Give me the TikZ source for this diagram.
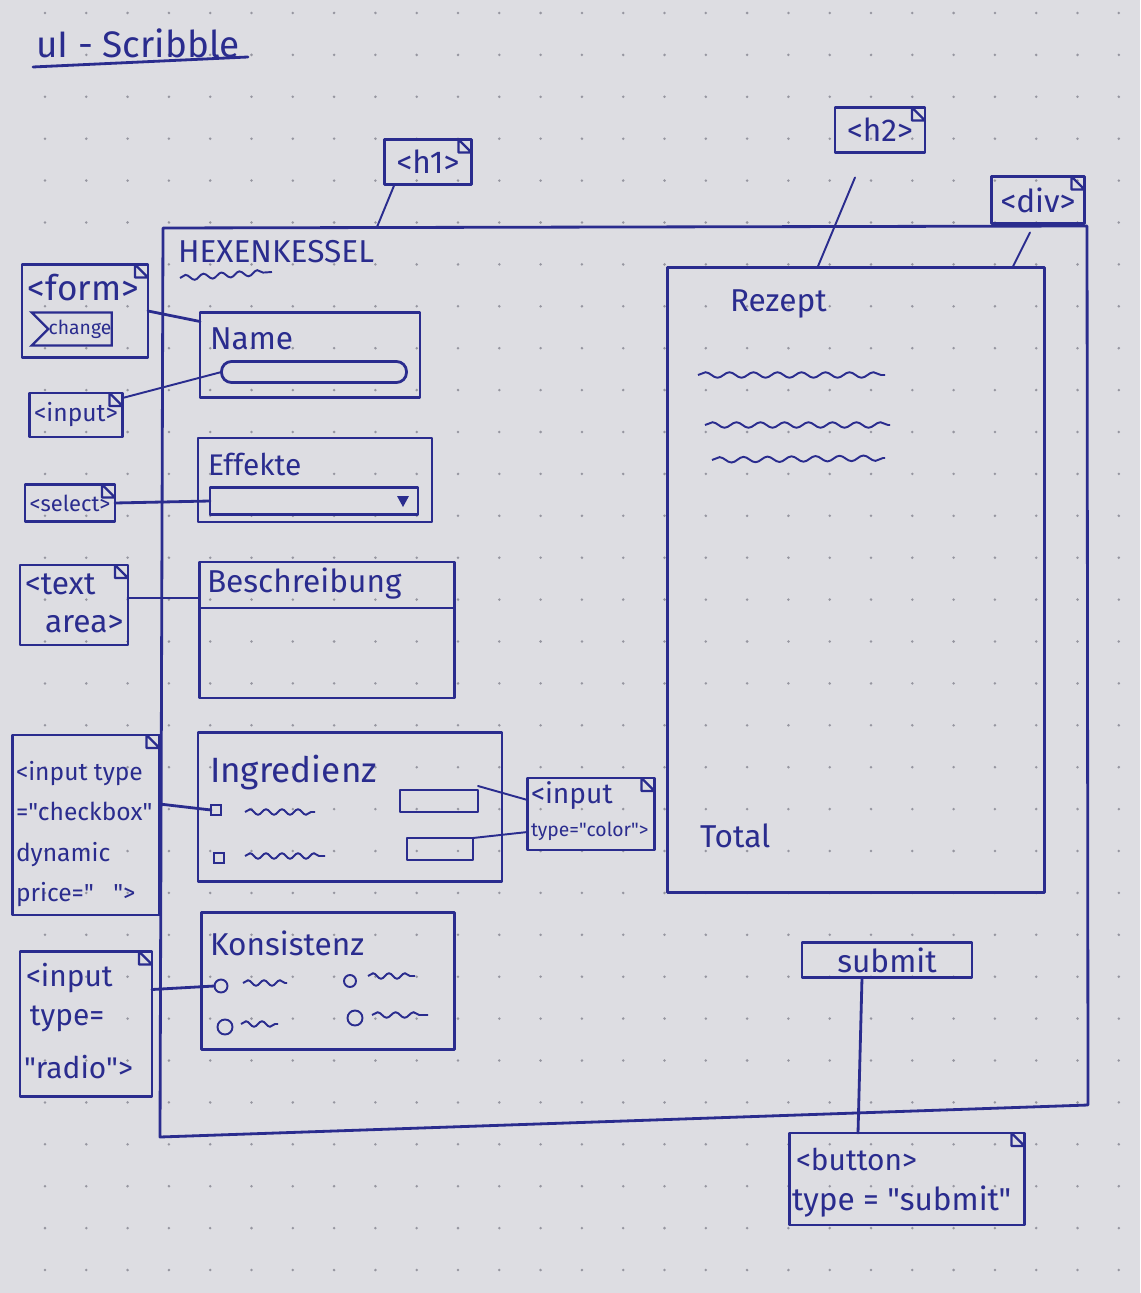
\documentclass[tikz,border=0pt]{standalone}
\usepackage{fontspec}
\setmainfont{Fira Sans}[Ligatures=TeXOff]
\usetikzlibrary{calc,decorations.pathmorphing,shapes.symbols}
\definecolor{paper}{RGB}{221,221,226}
\definecolor{ink}{RGB}{42,44,142}
\definecolor{dotc}{RGB}{150,150,160}
\newcommand\fsz[1]{\fontsize{#1}{#1}\selectfont}

\begin{document}
\begin{tikzpicture}[x=0.02cm,y=-0.02cm,
  every node/.style={text=ink, inner sep=0pt, outer sep=0pt},
  pen/.style={draw=ink, line width=1.6pt, line join=round, line cap=round},
  thin pen/.style={draw=ink, line width=1.1pt, line cap=round},
  field/.style 2 args={pen, minimum width=#1*0.02cm, minimum height=#2*0.02cm},
  tag/.style 2 args={field={#1}{#2},
    path picture={\draw[ink,line width=1.3pt,line join=round]
      ([xshift=-0.26cm]path picture bounding box.north east) -- ++(0,13) -- ++(13,0) -- cycle;}},
  lbl/.style={anchor=base west},
  wave/.style={draw=ink, line width=1.1pt, decorate,
    decoration={snake, amplitude=0.055cm, segment length=#1*0.02cm}},
  wave/.default=18,
  radio/.style={draw=ink, line width=1.1pt, circle, minimum size=#1*0.02cm},
  check/.style={draw=ink, line width=1.1pt, minimum size=10*0.02cm}
]
% paper and dotted grid
\fill[paper] (0,0) rectangle (1140,1293);
\useasboundingbox (0,0) rectangle (1140,1293);
\foreach \i in {0,...,26}{
  \foreach \j in {0,...,30}{
    \fill[dotc] (45+41.3*\i, 13+41.9*\j) circle[radius=0.028cm];
  }
}

% title
\node[lbl, font=\fsz{21}] (title) at (36,58) {uI - Scribble};
\draw[pen] (33,67) -- (248,57);

% page frame
\coordinate (fNW) at (163,228);
\coordinate (fNE) at (1087,226);
\coordinate (fSE) at (1088,1105);
\coordinate (fSW) at (160,1137);
\draw[pen] (fNW) -- (fNE) -- (fSE) -- (fSW) -- cycle;

% heading
\node[tag={87}{45}, font=\fsz{18}] (h1) at (428,162) {<h1>};
\node[lbl, font=\fsz{18}] (hexe) at (178,263) {HEXENKESSEL};
\draw[wave=18] (180,278) -- (272,272);
\coordinate (h1foot) at (377,227);
\draw[thin pen] ($(h1.south west)+(10,0)$) -- (h1foot);

% form tag with change event
\node[tag={126}{93}] (form) at (85,311) {};
\node[lbl, font=\fsz{20}] (formtxt) at (28,301) {<form>};
\node[signal, signal to=nowhere, signal from=west, draw=ink, line width=1.3pt,
  minimum width=80*0.02cm, minimum height=33*0.02cm, font=\fsz{11}] (change) at (80,329) {change};

% Name
\node[field={220}{85}] (name) at (310,355) {};
\node[lbl, font=\fsz{18}] (nametxt) at (210,350) {Name};
\node[field={185}{21}, rounded corners=0.2cm] (nameinput) at (314,372) {};
\draw[pen] (form.east) -- ($(name.north west)+(0,9)$);
\node[tag={93}{44}, font=\fsz{14}] (inputtag) at (76,415) {<input>};
\draw[thin pen] ($(inputtag.north east)+(0,5)$) -- (nameinput.west);

% Effekte
\node[field={234}{84}] (effekte) at (315,480) {};
\node[lbl, font=\fsz{17}] (effektetxt) at (208,476) {Effekte};
\node[field={208}{27}] (selfield) at (314,501) {};
\fill[ink] (397,496) -- (409,496) -- (403,507) -- cycle;
\node[tag={90}{37}, font=\fsz{12.5}] (selecttag) at (70,503) {<select>};
\draw[pen] (selecttag.east) -- (selfield.west);

% Beschreibung
\node[field={255}{136}] (besch) at (327,630) {};
\node[lbl, font=\fsz{18}] (beschtxt) at (207,592) {Beschreibung};
\draw[pen] ($(besch.north west)+(0,46)$) -- ($(besch.north east)+(0,46)$);
\node[tag={108}{80}] (areatag) at (74,605) {};
\node[lbl, font=\fsz{18}] (areatxt1) at (25,594) {<text};
\node[lbl, font=\fsz{18}] (areatxt2) at (45,632) {area>};
\draw[pen] ($(areatag.north east)+(0,33)$) -- ($(besch.north west)+(0,36)$);

% Ingredienz
\node[field={304}{149}] (ingr) at (350,807) {};
\node[lbl, font=\fsz{20}] (ingrtxt) at (210,782) {Ingredienz};
\node[check] (cb1) at (216,810) {};
\draw[wave=16] (245,812) -- (315,812);
\node[field={78}{22}] (col1) at (439,801) {};
\node[check] (cb2) at (219,858) {};
\draw[wave=16] (245,856) -- (325,856);
\node[field={66}{22}] (col2) at (440,849) {};
\node[tag={147}{180}] (cbtag) at (86,825) {};
\node[anchor=north west, align=left, font=\fontsize{14}{23}\selectfont] (cbtxt) at (16,761)
  {<input type\\="checkbox"\\dynamic\\price="~~~">};
\draw[pen] ($(cbtag.north east)+(0,69)$) -- (cb1.west);
\node[tag={127}{72}] (coltag) at (591,814) {};
\node[lbl, font=\fsz{16}] (coltxt1) at (531,803) {<input};
\node[lbl, font=\fsz{11}] (coltxt2) at (531,836) {type="color">};
\draw[thin pen] ($(col1.north east)+(0,-4)$) -- ($(coltag.north west)+(0,22)$);
\draw[thin pen] ($(col2.north east)+(0,0)$) -- ($(coltag.north west)+(0,54)$);

% Konsistenz
\node[field={253}{137}] (kons) at (328,981) {};
\node[lbl, font=\fsz{18}] (konstxt) at (210,955) {Konsistenz};
\node[radio=13] (r1) at (221,986) {};
\draw[wave=16] (243,983) -- (287,983);
\node[radio=12] (r2) at (350,981) {};
\draw[wave=16] (368,976) -- (415,976);
\node[radio=15] (r3) at (225,1027) {};
\draw[wave=16] (241,1024) -- (278,1024);
\node[radio=15] (r4) at (355,1018) {};
\draw[wave=18] (372,1015) -- (428,1015);
\node[tag={132}{145}] (radiotag) at (86,1024) {};
\node[lbl, font=\fsz{17}] (radtxt1) at (26,986) {<input};
\node[lbl, font=\fsz{17}] (radtxt2) at (30,1025) {type=};
\node[lbl, font=\fsz{17}] (radtxt3) at (24,1078) {"radio">};
\draw[pen] ($(radiotag.north east)+(0,38)$) -- (r1.west);

% recipe panel
\node[field={377}{625}] (rezept) at (856,580) {};
\node[lbl, font=\fsz{18}] (rezepttxt) at (730,312) {Rezept};
\draw[wave=24] (698,375) -- (885,375);
\draw[wave=24] (705,425) -- (890,425);
\draw[wave=24] (712,460) -- (885,458);
\node[lbl, font=\fsz{18}] (totaltxt) at (700,847) {Total};
\node[tag={90}{45}, font=\fsz{18}] (h2) at (880,130) {<h2>};
\draw[thin pen] ($(h2.south)+(-25,25)$) -- ($(rezept.north west)+(150,0)$);
\node[tag={93}{47}, font=\fsz{18}] (div) at (1038,200) {<div>};
\draw[thin pen] ($(div.south)+(-8,9)$) -- ($(rezept.north east)+(-32,0)$);

% submit
\node[field={170}{35}, font=\fsz{18}] (submit) at (887,960) {submit};
\node[tag={235}{92}] (button) at (907,1179) {};
\node[lbl, font=\fsz{17}] (buttxt1) at (796,1170) {<button>};
\node[lbl, font=\fsz{18}] (buttxt2) at (792,1210) {type = "submit"};
\draw[pen] ($(submit.south)+(-25,0)$) -- ($(button.north)+(-49,0)$);
\end{tikzpicture}
\end{document}
